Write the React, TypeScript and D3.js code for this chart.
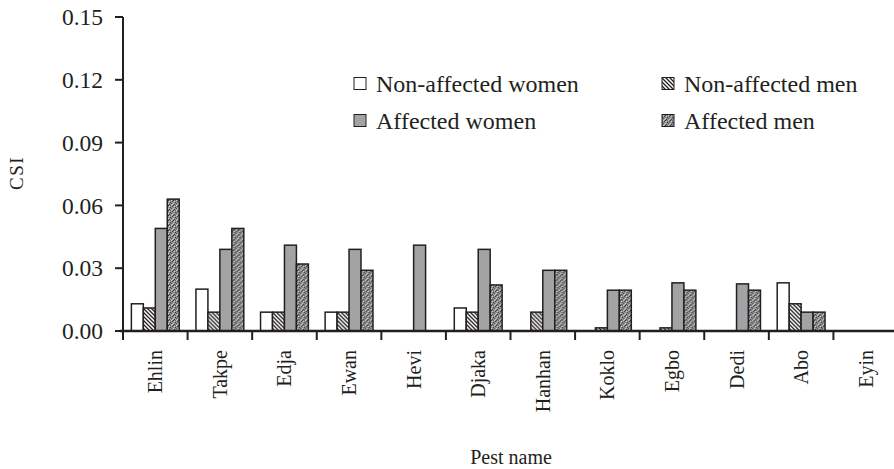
import React from "react";
import * as d3 from "d3";

// pest names and CSI values per group
const categories = ["Ehlin", "Takpe", "Edja", "Ewan", "Hevi", "Djaka", "Hanhan", "Koklo", "Egbo", "Dedi", "Abo", "Eyin"];
const nonAffectedWomen = [0.013, 0.02, 0.009, 0.009, 0, 0.011, 0, 0, 0, 0, 0.023, 0];
const nonAffectedMen = [0.011, 0.009, 0.009, 0.009, 0, 0.009, 0.009, 0.0015, 0.0015, 0, 0.013, 0];
const affectedWomen = [0.049, 0.039, 0.041, 0.039, 0.041, 0.039, 0.029, 0.0195, 0.023, 0.0225, 0.009, 0];
const affectedMen = [0.063, 0.049, 0.032, 0.029, 0, 0.022, 0.029, 0.0195, 0.0195, 0.0195, 0.009, 0];
const yTicks = [0, 0.03, 0.06, 0.09, 0.12, 0.15];

const seriesNames = ["Non-affected women", "Non-affected men", "Affected women", "Affected men"];
const seriesValues = [nonAffectedWomen, nonAffectedMen, affectedWomen, affectedMen];
const fills = ["#fff", "url(#hatch)", "#a3a3a5", "url(#dots)"];

// stipple dots inside a 5x5 tile: [x, y, shade]
const stipple: [number, number, string][] = [
  [0, 0, "#333"], [3, 0, "#ccc"], [1, 1, "#d5d5d5"], [4, 1, "#444"], [2, 2, "#3a3a3a"],
  [0, 3, "#ccc"], [3, 3, "#555"], [1, 4, "#404040"], [4, 4, "#c8c8c8"], [2, 0, "#666"],
];

const W = 894, H = 469;
const left = 123, bottom = 331, top = 17;
const serif = "'Liberation Serif', 'Times New Roman', serif";
const ink = "#231f20";

export default function App() {
  const x = d3.scaleBand().domain(categories).range([left, 898]).padding(0);
  const inner = d3.scaleBand().domain(seriesNames).range([0, x.bandwidth()]).paddingInner(0).paddingOuter(0.7);
  const y = d3.scaleLinear().domain([0, 0.15]).range([bottom, top]);
  const fmt = d3.format(".2f");

  return (
    <svg width={W} height={H} style={{ position: "absolute", left: 0, top: 0 }}>
      <defs>
        <pattern id="hatch" width="4" height="4" patternUnits="userSpaceOnUse">
          <rect width="4" height="4" fill="#fff" />
          <path d="M-1,-1 L5,5 M-1,3 L1,5 M3,-1 L5,1" stroke={ink} strokeWidth="1.3" />
        </pattern>
        <pattern id="dots" width="5" height="5" patternUnits="userSpaceOnUse">
          <rect width="5" height="5" fill="#8e8e8e" />
          {stipple.map(([px, py, c], i) => (
            <rect key={i} x={px} y={py} width={1} height={1} fill={c} />
          ))}
        </pattern>
      </defs>

      {/* bars */}
      {categories.map((c, ci) => (
        <g key={c} transform={`translate(${x(c)},0)`}>
          {seriesNames.map((s, si) => {
            const v = seriesValues[si][ci];
            if (!v) return null;
            return (
              <rect key={s} x={inner(s)} y={y(v)} width={inner.bandwidth()} height={y(0) - y(v)}
                fill={fills[si]} stroke={ink} strokeWidth={1.5} />
            );
          })}
        </g>
      ))}

      {/* y axis */}
      <line x1={left} x2={left} y1={top} y2={bottom + 9} stroke={ink} strokeWidth={2} />
      {yTicks.map((t) => (
        <g key={t}>
          <line x1={left - 8} x2={left} y1={y(t)} y2={y(t)} stroke={ink} strokeWidth={2} />
          <text x={left - 20} y={y(t)} dy="0.35em" textAnchor="end" fontFamily={serif} fontSize={23.5} fill={ink}>
            {fmt(t)}
          </text>
        </g>
      ))}

      {/* x axis */}
      <line x1={left - 3} x2={W} y1={bottom} y2={bottom} stroke={ink} strokeWidth={2.5} />
      {categories.map((c) => (
        <g key={c}>
          <line x1={x(c)} x2={x(c)} y1={bottom} y2={bottom + 9} stroke={ink} strokeWidth={2} />
          <text transform={`translate(${x(c)! + x.bandwidth() / 2},350) rotate(-90)`} dy="0.35em"
            textAnchor="end" fontFamily={serif} fontSize={20} fill={ink}>
            {c}
          </text>
        </g>
      ))}

      {/* axis titles */}
      <text x={511} y={464} textAnchor="middle" fontFamily={serif} fontSize={20} fill={ink}>Pest name</text>
      <text transform="translate(23,173) rotate(-90)" textAnchor="middle" fontFamily={serif} fontSize={19}
        letterSpacing={1.5} fill={ink}>CSI</text>

      {/* legend */}
      {seriesNames.map((s, i) => {
        const lx = i % 2 === 0 ? 354 : 662;
        const ly = i < 2 ? 83.5 : 120.5;
        return (
          <g key={s}>
            <rect x={lx} y={ly - 6} width={12} height={12} fill={fills[i]} stroke={ink} strokeWidth={1} />
            <text x={lx + 22} y={ly} dy="0.35em" fontFamily={serif} fontSize={24} fill={ink}>{s}</text>
          </g>
        );
      })}
    </svg>
  );
}
